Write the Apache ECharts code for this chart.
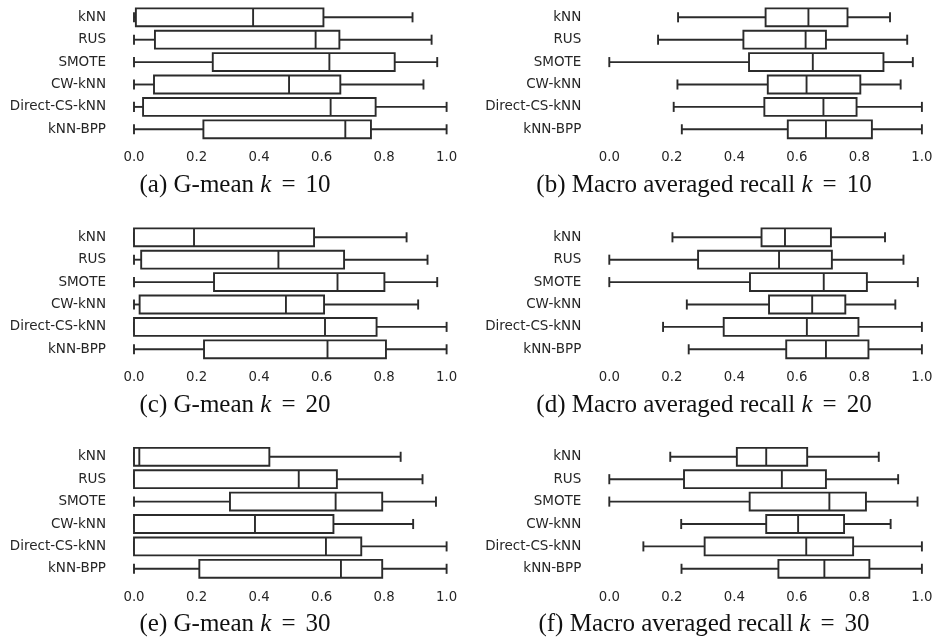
<!DOCTYPE html>
<html>
<head>
<meta charset="utf-8">
<script src="https://cdn.jsdelivr.net/npm/echarts@6/dist/echarts.min.js"></script>
<style>
html,body{margin:0;padding:0;background:#fff;}
#chart{width:937px;height:640px;}
</style>
</head>
<body>
<div id="chart"></div>
<script>
// Methods (top to bottom)
const methods = ['kNN', 'RUS', 'SMOTE', 'CW-kNN', 'Direct-CS-kNN', 'kNN-BPP'];
// x tick labels
const xTicks = [0.0, 0.2, 0.4, 0.6, 0.8, 1.0];

// five-number summaries: [whisker low, Q1, median, Q3, whisker high]
const gmeanK10 = [
  [0.000, 0.006, 0.381, 0.606, 0.891],
  [0.000, 0.067, 0.581, 0.657, 0.952],
  [0.000, 0.252, 0.625, 0.834, 0.970],
  [0.000, 0.064, 0.496, 0.660, 0.926],
  [0.000, 0.029, 0.629, 0.773, 1.000],
  [0.000, 0.222, 0.676, 0.758, 1.000]
];
const recallK10 = [
  [0.220, 0.500, 0.637, 0.762, 0.898],
  [0.156, 0.429, 0.628, 0.693, 0.953],
  [0.000, 0.447, 0.651, 0.877, 0.971],
  [0.218, 0.507, 0.631, 0.803, 0.932],
  [0.206, 0.496, 0.685, 0.791, 1.000],
  [0.232, 0.571, 0.693, 0.840, 1.000]
];
const gmeanK20 = [
  [0.000, 0.000, 0.192, 0.576, 0.872],
  [0.000, 0.023, 0.462, 0.672, 0.939],
  [0.000, 0.256, 0.651, 0.801, 0.970],
  [0.000, 0.018, 0.486, 0.608, 0.909],
  [0.000, 0.000, 0.611, 0.776, 1.000],
  [0.000, 0.224, 0.619, 0.806, 1.000]
];
const recallK20 = [
  [0.202, 0.487, 0.562, 0.709, 0.882],
  [0.000, 0.284, 0.543, 0.712, 0.941],
  [0.000, 0.450, 0.686, 0.824, 0.987],
  [0.248, 0.511, 0.649, 0.755, 0.915],
  [0.172, 0.366, 0.632, 0.797, 1.000],
  [0.254, 0.566, 0.693, 0.829, 1.000]
];
const gmeanK30 = [
  [0.000, 0.000, 0.017, 0.433, 0.853],
  [0.000, 0.000, 0.527, 0.649, 0.923],
  [0.000, 0.307, 0.645, 0.794, 0.966],
  [0.000, 0.000, 0.387, 0.638, 0.893],
  [0.000, 0.000, 0.614, 0.727, 1.000],
  [0.000, 0.209, 0.662, 0.794, 1.000]
];
const recallK30 = [
  [0.195, 0.408, 0.502, 0.633, 0.862],
  [0.000, 0.239, 0.552, 0.693, 0.924],
  [0.000, 0.449, 0.704, 0.821, 0.986],
  [0.230, 0.502, 0.604, 0.751, 0.900],
  [0.109, 0.305, 0.630, 0.780, 1.000],
  [0.231, 0.541, 0.688, 0.832, 1.000]
];

const panelData = [gmeanK10, recallK10, gmeanK20, recallK20, gmeanK30, recallK30];
const captions = [
  ['(a) G-mean ', '10'],
  ['(b) Macro averaged recall ', '10'],
  ['(c) G-mean ', '20'],
  ['(d) Macro averaged recall ', '20'],
  ['(e) G-mean ', '30'],
  ['(f) Macro averaged recall ', '30']
];

const STROKE = '#2b2b2b';
const colLeft = [134, 609.3];
const plotW = 312.6;
const rowTop = [6.1, 226.1, 445.6];
const plotH = 134.4;
const capY = [185, 405, 624];
const capX = [235, 704];

const grids = [], xAxes = [], yAxes = [], series = [], graphics = [];

function renderBox(params, api) {
  const cat = api.value(0);
  const v = [api.value(1), api.value(2), api.value(3), api.value(4), api.value(5)];
  const band = api.size([0, 1])[1];
  const bh = band * 0.8;
  const ch = band * 0.45;
  const y = api.coord([0, cat])[1];
  const x = v.map(val => api.coord([val, cat])[0]);
  const ls = {stroke: STROKE, lineWidth: 1.9};
  return {
    type: 'group',
    children: [
      {type: 'line', shape: {x1: x[0], y1: y, x2: x[1], y2: y}, style: ls},
      {type: 'line', shape: {x1: x[3], y1: y, x2: x[4], y2: y}, style: ls},
      {type: 'line', shape: {x1: x[0], y1: y - ch / 2, x2: x[0], y2: y + ch / 2}, style: ls},
      {type: 'line', shape: {x1: x[4], y1: y - ch / 2, x2: x[4], y2: y + ch / 2}, style: ls},
      {type: 'rect', shape: {x: x[1], y: y - bh / 2, width: x[3] - x[1], height: bh},
        style: {fill: '#ffffff', stroke: STROKE, lineWidth: 1.9}},
      {type: 'line', shape: {x1: x[2], y1: y - bh / 2, x2: x[2], y2: y + bh / 2}, style: ls}
    ]
  };
}

const serif = {fontFamily: 'Liberation Serif', fontSize: 25, fill: '#111', color: '#111'};

panelData.forEach((d, i) => {
  const col = i % 2, row = Math.floor(i / 2);
  grids.push({left: colLeft[col], top: rowTop[row], width: plotW, height: plotH, containLabel: false});
  xAxes.push({
    type: 'value', gridIndex: i, min: xTicks[0], max: xTicks[xTicks.length - 1], interval: 0.2,
    axisLine: {show: false}, axisTick: {show: false}, splitLine: {show: false},
    axisLabel: {margin: 11, color: '#262626', fontFamily: 'DejaVu Sans', fontSize: 13.3,
      formatter: val => val.toFixed(1)}
  });
  yAxes.push({
    type: 'category', gridIndex: i, data: methods, inverse: true,
    axisLine: {show: false}, axisTick: {show: false}, splitLine: {show: false},
    axisLabel: {margin: 28, color: '#262626', fontFamily: 'DejaVu Sans', fontSize: 13.5}
  });
  series.push({
    type: 'custom', xAxisIndex: i, yAxisIndex: i,
    renderItem: renderBox,
    encode: {x: [1, 2, 3, 4, 5], y: 0},
    data: d.map((r, k) => [k].concat(r)),
    silent: true, animation: false
  });
  graphics.push({
    type: 'text',
    x: capX[col], y: capY[row],
    style: {
      text: '{n|' + captions[i][0] + '}{k|k}{eq|=}{n|' + captions[i][1] + '}',
      textAlign: 'center', textVerticalAlign: 'middle',
      rich: {
        n: serif,
        k: Object.assign({}, serif, {fontStyle: 'italic'}),
        eq: Object.assign({}, serif, {padding: [0, 10, 0, 10]})
      }
    }
  });
});

const chart = echarts.init(document.getElementById('chart'), null, {renderer: 'canvas'});
chart.setOption({
  animation: false,
  backgroundColor: '#ffffff',
  grid: grids, xAxis: xAxes, yAxis: yAxes, series: series,
  graphic: graphics
});
</script>
</body>
</html>
